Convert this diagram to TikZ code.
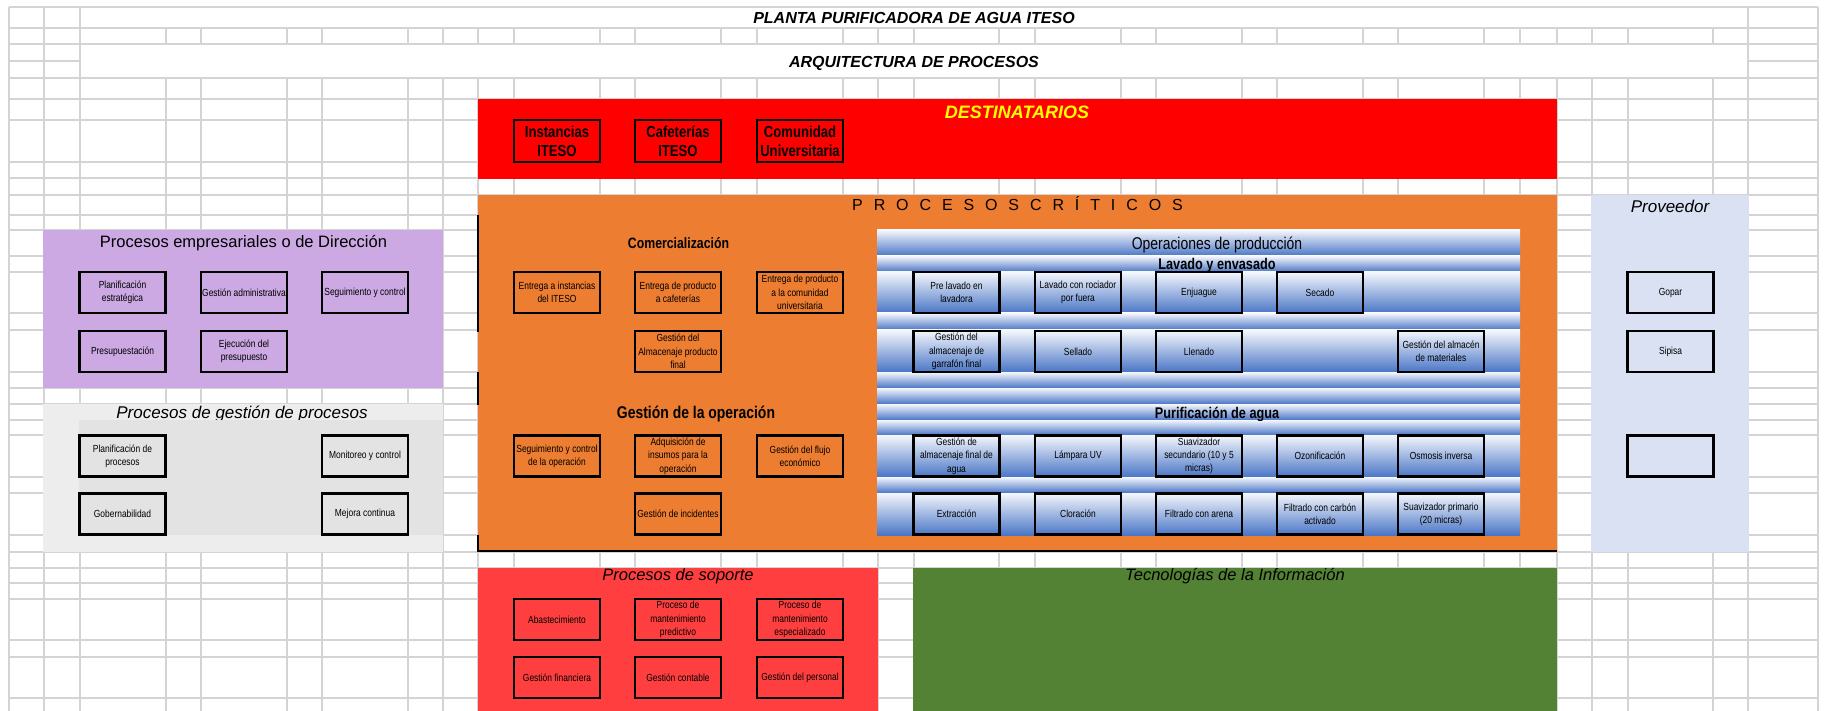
\documentclass[tikz,border=0pt]{standalone}
\usepackage{fontspec}
\setmainfont{Liberation Sans}
\newfontfamily\nar[FakeStretch=0.82]{Liberation Sans}
\definecolor{gridc}{HTML}{D4D4D4}
\definecolor{redband}{HTML}{FF0000}
\definecolor{orangeb}{HTML}{ED7D31}
\definecolor{purpleb}{HTML}{CCA9E3}
\definecolor{grayout}{HTML}{EDEDED}
\definecolor{grayin}{HTML}{E3E3E3}
\definecolor{provb}{HTML}{D9E1F2}
\definecolor{supred}{HTML}{FF3F3F}
\definecolor{greenb}{HTML}{548235}
\definecolor{bluetop}{HTML}{F5F7FC}
\definecolor{bluebot}{HTML}{4A76C6}
\definecolor{yellowt}{HTML}{FFFF00}
\tikzset{
  gridline/.style={draw=gridc, line width=1.1pt},
  pbox/.style={draw=black, line width=2.3pt, minimum width=86pt, minimum height=41pt,
    inner sep=1pt, align=center, font=\nar\fontsize{10.3}{13.3}\selectfont},
  dbox/.style={pbox, font=\nar\bfseries\fontsize{16}{19}\selectfont},
  head/.style={anchor=base, inner sep=0pt, font=\fontsize{16.5}{19}\selectfont},
  ihead/.style={anchor=base, inner sep=0pt, font=\itshape\fontsize{16.5}{19}\selectfont},
  nhead/.style={anchor=base, inner sep=0pt},
  blueband/.style={top color=bluetop, bottom color=bluebot},
}
\begin{document}
\begin{tikzpicture}[x=1pt,y=-1pt]
\useasboundingbox (0,0) rectangle (1826,711);
\fill[white] (0,0) rectangle (1826,711);
% spreadsheet grid
\foreach \gx in {9,44,80,166,201,287,322,408,443,478,514,600,635,721,757,843,878,914,999,1035,1121,1156,1242,1277,1363,1398,1484,1520,1557,1592,1628,1713,1748,1818}
  \draw[gridline] (\gx,7) -- (\gx,711);
\foreach \gy in {7,28,44,61,78,99,120,162,178,195,215,230,256,272,313,330,372,388,404,420,435,477,493,535,552,568,583,599,640,657,698}
  \draw[gridline] (9,\gy) -- (1818,\gy);
\draw[gridline, fill=white] (80,7) rectangle (1748,28);
\draw[gridline, fill=white] (80,44) rectangle (1748,78);
% titles
\node[nhead, font=\bfseries\itshape\fontsize{16}{19}\selectfont] (title) at (914,23.5) {PLANTA PURIFICADORA DE AGUA ITESO};
\node[nhead, font=\bfseries\itshape\fontsize{16}{19}\selectfont] (subtitle) at (914,67.5) {ARQUITECTURA DE PROCESOS};
% coloured regions
\fill[redband] (478,99) rectangle (1557,179);
\fill[orangeb] (478,195) rectangle (1557,551);
\fill[purpleb] (43,230) rectangle (443,388);
\fill[grayout] (43,404) rectangle (443,552);
\fill[provb] (1591,195) rectangle (1749,552);
\fill[supred] (478,568) rectangle (878,711);
\fill[greenb] (913,568) rectangle (1557,711);
% orange borders
\draw[black, line width=1.6pt] (478,215) -- (478,332);
\draw[black, line width=1.6pt] (478,372) -- (478,405);
\draw[black, line width=1.6pt] (478,535) -- (478,551) -- (1557,551);
% blue production bands
\foreach \ya/\yb in {230/256,256/272,272/313,313/330,330/372,372/388,388/404,404/420,420/435,435/477,477/493,493/535}
  \shade[blueband] (877,\ya) rectangle (1520,\yb);
% destinatarios
\node[nhead, text=yellowt, font=\bfseries\itshape\fontsize{18}{20}\selectfont] (dest) at (1017,119) {DESTINATARIOS};
\node[dbox, minimum height=42pt] (d1) at (557,141) {Instancias\\ITESO};
\node[dbox, minimum height=42pt] (d2) at (678,141) {Cafeterías\\ITESO};
\node[dbox, minimum height=42pt] (d3) at (800,141) {Comunidad\\Universitaria};
% procesos criticos
\node[nhead, font=\fontsize{16}{19}\selectfont] (pc) at (1017.5,210.5) {\spaceskip=10.9pt P R O C E S O S C R Í T I C O S};
\node[ihead, font=\itshape\fontsize{17}{19}\selectfont] (prov) at (1670,212.5) {Proveedor};
% direccion
\node[head] (ped) at (243.5,248) {Procesos empresariales o de Dirección};
\node[pbox] (e1) at (122.5,292.5) {Planificación\\estratégica};
\node[pbox] (e2) at (244,292.5) {Gestión administrativa};
\node[pbox] (e3) at (365,292.5) {Seguimiento y control};
\node[pbox] (e4) at (122.5,351.5) {Presupuestación};
\node[pbox] (e5) at (244,351.5) {Ejecución del\\presupuesto};
% gestion de procesos
\node[ihead, font=\itshape\fontsize{17}{19}\selectfont] (pgp) at (242,418) {Procesos de gestión de procesos};
\fill[grayin] (79,420) rectangle (443,535);
\node[pbox] (g1) at (122.5,456) {Planificación de\\procesos};
\node[pbox] (g2) at (365,456) {Monitoreo y control};
\node[pbox] (g3) at (122.5,514) {Gobernabilidad};
\node[pbox] (g4) at (365,514) {Mejora continua};
% comercializacion
\node[nhead, font=\nar\bfseries\fontsize{15}{18}\selectfont] (com) at (678.5,249) {Comercialización};
\node[pbox] (c1) at (557,292.5) {Entrega a instancias\\del ITESO};
\node[pbox] (c2) at (678,292.5) {Entrega de producto\\a cafeterías};
\node[pbox] (c3) at (800,292.5) {Entrega de producto\\a la comunidad\\universitaria};
\node[pbox] (c4) at (678,351.5) {Gestión del\\Almacenaje producto\\final};
\node[nhead, font=\nar\bfseries\fontsize{17}{19}\selectfont] (gop) at (696,418) {Gestión de la operación};
\node[pbox] (o1) at (557,456) {Seguimiento y control\\de la operación};
\node[pbox] (o2) at (678,456) {Adquisición de\\insumos para la\\operación};
\node[pbox] (o3) at (800,456) {Gestión del flujo\\económico};
\node[pbox] (o4) at (678,514) {Gestión de incidentes};
% operaciones de produccion
\node[nhead, font=\nar\fontsize{17}{19}\selectfont] (opp) at (1217,250) {Operaciones de producción};
\begin{scope}
  \clip (877,256) rectangle (1520,272);
  \node[nhead, font=\nar\bfseries\fontsize{15.5}{18}\selectfont] (lav) at (1217,270) {Lavado y envasado};
\end{scope}
\begin{scope}
  \clip (877,404) rectangle (1520,420);
  \node[nhead, font=\nar\bfseries\fontsize{15.5}{18}\selectfont] (pur) at (1217,418) {Purificación de agua};
\end{scope}
\node[pbox] (b1) at (956.5,292.5) {Pre lavado en\\lavadora};
\node[pbox] (b2) at (1078,292.5) {Lavado con rociador\\por fuera};
\node[pbox] (b3) at (1199,292.5) {Enjuague};
\node[pbox] (b4) at (1320,292.5) {Secado};
\node[pbox] (b5) at (956.5,351.5) {Gestión del\\almacenaje de\\garrafón final};
\node[pbox] (b6) at (1078,351.5) {Sellado};
\node[pbox] (b7) at (1199,351.5) {Llenado};
\node[pbox] (b8) at (1441,351.5) {Gestión del almacén\\de materiales};
\node[pbox] (w1) at (956.5,456) {Gestión de\\almacenaje final de\\agua};
\node[pbox] (w2) at (1078,456) {Lámpara UV};
\node[pbox] (w3) at (1199,456) {Suavizador\\secundario (10 y 5\\micras)};
\node[pbox] (w4) at (1320,456) {Ozonificación};
\node[pbox] (w5) at (1441,456) {Osmosis inversa};
\node[pbox] (w6) at (956.5,514) {Extracción};
\node[pbox] (w7) at (1078,514) {Cloración};
\node[pbox] (w8) at (1199,514) {Filtrado con arena};
\node[pbox] (w9) at (1320,514) {Filtrado con carbón\\activado};
\node[pbox] (w10) at (1441,514) {Suavizador primario\\(20 micras)};
% proveedor
\node[pbox] (p1) at (1670.5,292.5) {Gopar};
\node[pbox] (p2) at (1670.5,351.5) {Sipisa};
\node[pbox] (p3) at (1670.5,456) {};
% soporte
\node[ihead] (sop) at (678,580.5) {Procesos de soporte};
\node[ihead] (tec) at (1235,580.5) {Tecnologías de la Información};
\node[pbox] (s1) at (557,619.5) {Abastecimiento};
\node[pbox] (s2) at (678,619.5) {Proceso de\\mantenimiento\\predictivo};
\node[pbox] (s3) at (800,619.5) {Proceso de\\mantenimiento\\especializado};
\node[pbox] (s4) at (557,677.5) {Gestión financiera};
\node[pbox] (s5) at (678,677.5) {Gestión contable};
\node[pbox] (s6) at (800,677.5) {Gestión del personal};
\end{tikzpicture}
\end{document}
